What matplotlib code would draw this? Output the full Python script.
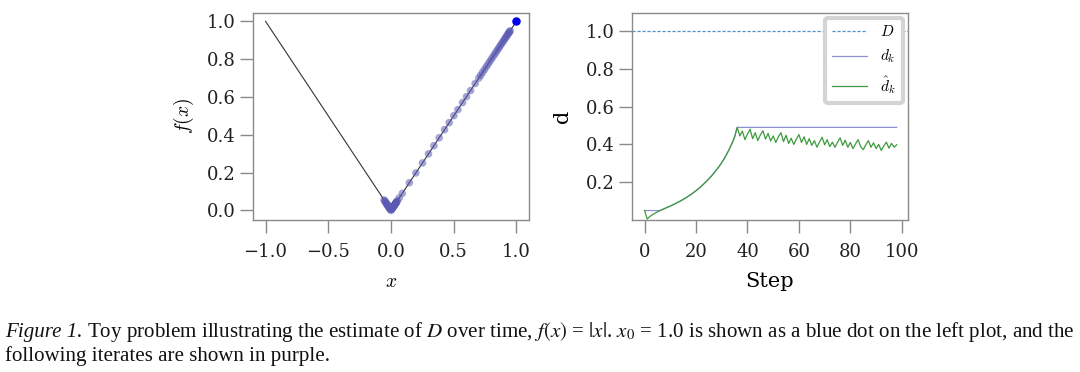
import numpy as np
import matplotlib
matplotlib.use("Agg")
import matplotlib.pyplot as plt

plt.rcParams['font.family'] = ['DejaVu Serif']
plt.rcParams['mathtext.fontset'] = 'cm'

# ---------------- data ----------------
# left panel: f(x) = |x| curve and the iterates
curve_x = [-1.0, 0.0, 1.0]
curve_y = [1.0, 0.0, 1.0]
x_start = [1.0]
iterates_x = [0.950, 0.945, 0.940, 0.934, 0.928, 0.921, 0.914, 0.906, 0.898,
              0.889, 0.880, 0.870, 0.860, 0.849, 0.838, 0.826, 0.814, 0.801,
              0.788, 0.774, 0.760, 0.745, 0.730, 0.715, 0.700, 0.671, 0.634,
              0.602, 0.570, 0.533, 0.501, 0.464, 0.427, 0.384, 0.342, 0.299,
              0.251, 0.198, 0.146, 0.090, 0.065, 0.040, 0.020, 0.000, -0.030,
              0.025, -0.020, 0.045, -0.055, 0.010, -0.040, 0.050, -0.010,
              0.030, -0.035, 0.020, -0.025, 0.040, -0.045, 0.015, -0.015,
              0.035, -0.030, 0.005, -0.005, 0.025, -0.020, 0.040, -0.050,
              0.010, -0.010, 0.030]

# right panel: D, d_k and hat d_k over steps
D_value = 1.0
dhat = [0.050, 0.005, 0.018, 0.028, 0.036, 0.043, 0.050, 0.056, 0.062, 0.068,
        0.074, 0.080, 0.087, 0.094, 0.101, 0.109, 0.117, 0.126, 0.135, 0.145,
        0.155, 0.166, 0.178, 0.191, 0.204, 0.218, 0.233, 0.249, 0.266, 0.284,
        0.304, 0.326, 0.350, 0.377, 0.406, 0.440, 0.490,
        0.445, 0.470, 0.425, 0.455, 0.480, 0.430, 0.462, 0.420, 0.450, 0.472,
        0.428, 0.458, 0.418, 0.445, 0.410, 0.440, 0.462, 0.415, 0.448, 0.405,
        0.432, 0.400, 0.428, 0.452, 0.410, 0.440, 0.400, 0.430, 0.395, 0.420,
        0.385, 0.412, 0.438, 0.398, 0.425, 0.388, 0.412, 0.385, 0.410, 0.435,
        0.395, 0.422, 0.385, 0.410, 0.378, 0.402, 0.425, 0.388, 0.372, 0.398,
        0.420, 0.385, 0.408, 0.378, 0.400, 0.368, 0.392, 0.412, 0.380, 0.405,
        0.385, 0.398]
steps = list(range(len(dhat)))
d_k = list(np.maximum.accumulate(dhat))

left_xticks = [-1.0, -0.5, 0.0, 0.5, 1.0]
left_yticks = [0.0, 0.2, 0.4, 0.6, 0.8, 1.0]
right_xticks = [0, 20, 40, 60, 80, 100]
right_yticks = [0.2, 0.4, 0.6, 0.8, 1.0]

# ---------------- figure ----------------
W, H = 1080, 372
fig = plt.figure(figsize=(W / 100, H / 100), dpi=100)
axL = fig.add_axes([253 / W, 1 - 220 / H, 276 / W, 207 / H])
axR = fig.add_axes([632 / W, 1 - 220 / H, 276 / W, 207 / H])

spine_col = '#8a8a8a'
for ax in (axL, axR):
    for s in ax.spines.values():
        s.set_color(spine_col)
        s.set_linewidth(1.0)
    ax.tick_params(direction='out', length=9.5, width=1.0, color=spine_col,
                   labelsize=13, labelcolor='#222222')
    ax.tick_params(axis='x', pad=7)
    ax.tick_params(axis='y', pad=3)

# left
axL.plot(curve_x, curve_y, color='#333333', lw=0.8, zorder=2)
axL.scatter(iterates_x, np.abs(iterates_x), s=30, color='#5a5ab4', alpha=0.55,
            edgecolors='none', zorder=3)
axL.scatter(x_start, np.abs(x_start), s=26, color='#0000ee', zorder=4)
axL.set_xlim(-1.1, 1.1)
axL.set_ylim(-0.051, 1.044)
axL.set_xticks(left_xticks)
axL.set_yticks(left_yticks)
axL.set_xlabel('$x$', fontsize=14, labelpad=9)
axL.set_ylabel('$f(x)$', fontsize=14, labelpad=8)

# right
axR.axhline(D_value, color='#4a8fd0', lw=0.9, ls=(0, (2.5, 1.5)), label='$D$')
axR.plot(steps, d_k, color='#9090d4', lw=0.9, label='$d_k$')
axR.plot(steps, dhat, color='#3d9a3d', lw=0.9, label=r'$\hat{d}_k$')
axR.set_xlim(-4.9, 102.4)
axR.set_ylim(0.0, 1.095)
axR.set_xticks(right_xticks)
axR.set_yticks(right_yticks)
axR.set_xlabel('Step', fontsize=15, labelpad=8)
axR.set_ylabel('d', fontsize=15, labelpad=10)
leg = axR.legend(loc='upper right', fontsize=11, frameon=True, fancybox=True,
                 framealpha=1.0, borderaxespad=0.3, handlelength=2.3,
                 labelspacing=0.55, borderpad=0.45, handletextpad=0.9)
leg.get_frame().set_edgecolor('#d4d4d4')
leg.get_frame().set_linewidth(3)

# caption
r = fig.canvas.get_renderer()
cap_font = 'Liberation Serif'
y1 = 1 - 337 / H
y2 = 1 - 361 / H
line1_rest = (r'Toy problem illustrating the estimate of $D$ over time, $f(x)$ = $|x|$. '
              r'$x_0$ = 1.0 is shown as a blue dot on the left plot, and the')


def draw_caption(fs):
    a = fig.text(5 / W, y1, 'Figure 1.', family=cap_font, style='italic',
                 fontsize=fs, va='baseline', color='#111111')
    bb = a.get_window_extent(r)
    b = fig.text((bb.x1 + 0.3 * fs) / W, y1, line1_rest, family=cap_font,
                 fontsize=fs, va='baseline', color='#111111',
                 math_fontfamily='stix')
    c = fig.text(5 / W, y2, 'following iterates are shown in purple.',
                 family=cap_font, fontsize=fs, va='baseline', color='#111111')
    return a, b, c


fs = 13
texts = draw_caption(fs)
right_edge = texts[1].get_window_extent(r).x1
for t in texts:
    t.remove()
fs = fs * (1073 - 5) / (right_edge - 5)
draw_caption(fs)

fig.savefig('out.png', dpi=100)
